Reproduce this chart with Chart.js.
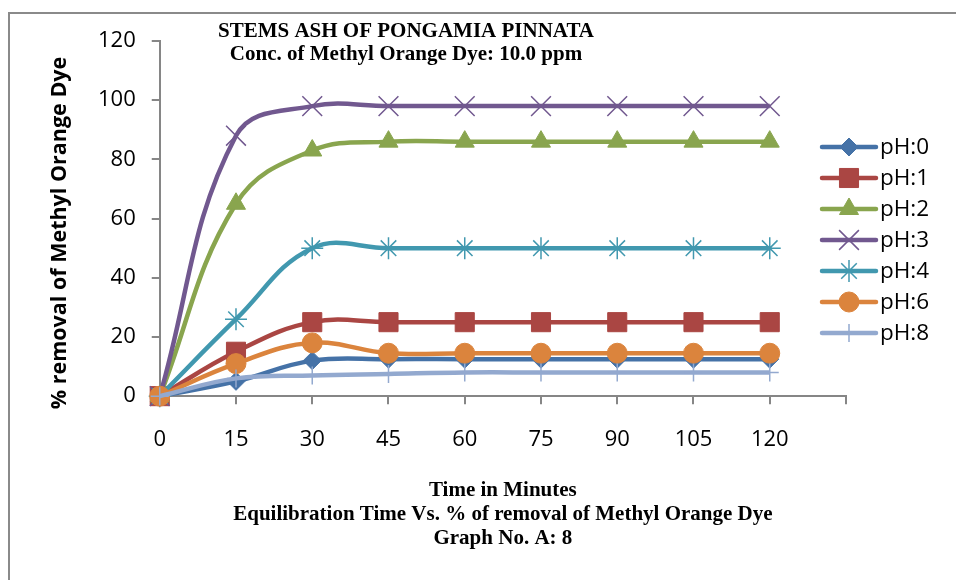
<!DOCTYPE html>
<html>
<head>
<meta charset="utf-8">
<script src="https://cdn.jsdelivr.net/npm/chart.js@4/dist/chart.umd.min.js"></script>
<style>
  html, body { margin: 0; padding: 0; background: #fff; }
  #wrap { position: relative; width: 956px; height: 580px; }
</style>
</head>
<body>
<div id="wrap"><canvas id="c" width="956" height="580"></canvas></div>
<script>
// Contact time (minutes) and % removal for each pH
const times = [0, 15, 30, 45, 60, 75, 90, 105, 120];
const ph0 = [0, 5, 12, 12.5, 12.5, 12.5, 12.5, 12.5, 12.5];
const ph1 = [0, 15, 25, 25, 25, 25, 25, 25, 25];
const ph2 = [0, 65, 83, 86, 86, 86, 86, 86, 86];
const ph3 = [0, 88, 98, 98, 98, 98, 98, 98, 98];
const ph4 = [0, 26, 50, 50, 50, 50, 50, 50, 50];
const ph6 = [0, 11, 18, 14.5, 14.5, 14.5, 14.5, 14.5, 14.5];
const ph8 = [0, 6, 7, 7.5, 8, 8, 8, 8, 8];
const seriesNames = ['pH:0', 'pH:1', 'pH:2', 'pH:3', 'pH:4', 'pH:6', 'pH:8'];
const yTicks = [0, 20, 40, 60, 80, 100, 120];

const titleLines = ['STEMS ASH OF PONGAMIA PINNATA', 'Conc. of Methyl Orange Dye: 10.0 ppm'];
const xTitleLines = ['Time in Minutes', 'Equilibration Time Vs. % of removal of Methyl Orange Dye', 'Graph No. A: 8'];
const yTitle = '% removal of Methyl Orange Dye';

const seriesValues = [ph0, ph1, ph2, ph3, ph4, ph6, ph8];
const styles = [
  { color: '#4572A7', point: 'rectRot', r: 9, pbw: 1 },
  { color: '#AA4643', point: 'rect', r: 13.5, pbw: 1 },
  { color: '#89A54E', point: 'triangle', r: 11, pbw: 1 },
  { color: '#71588F', point: 'crossRot', r: 14, pbw: 1.5 },
  { color: '#4198AF', point: 'star', r: 11, pbw: 1.5 },
  { color: '#DB843D', point: 'circle', r: 10, pbw: 1 },
  { color: '#93A9CF', point: 'cross', r: 9, pbw: 1.5 }
];

const datasets = seriesNames.map((name, i) => ({
  label: name,
  data: times.map((t, j) => ({ x: t, y: seriesValues[i][j] })),
  borderColor: styles[i].color,
  backgroundColor: styles[i].color,
  pointBackgroundColor: styles[i].color,
  pointBorderColor: styles[i].color,
  pointStyle: styles[i].point,
  pointRadius: styles[i].r,
  pointBorderWidth: styles[i].pbw,
  borderWidth: 4.5,
  tension: 0.4,
  clip: false,
  order: seriesNames.length - i
}));

const AXIS = '#868686';
const SERIF = '"Liberation Serif", "Times New Roman", serif';
const SANS = '"Open Sans", Lato, sans-serif';

const decor = {
  id: 'decor',
  beforeDraw(chart) {
    const ctx = chart.ctx;
    ctx.save();
    ctx.strokeStyle = '#8a8a8a';
    ctx.lineWidth = 2;
    ctx.beginPath();
    ctx.moveTo(9, 600);
    ctx.lineTo(9, 13);
    ctx.lineTo(980, 13);
    ctx.stroke();
    ctx.restore();
  },
  afterDraw(chart) {
    const ctx = chart.ctx;
    ctx.save();
    // chart title
    ctx.fillStyle = '#000';
    ctx.font = 'bold 21px ' + SERIF;
    ctx.textAlign = 'center';
    ctx.textBaseline = 'alphabetic';
    ctx.fillText(titleLines[0], 406, 37);
    ctx.fillText(titleLines[1], 406, 60);

    // y-axis title
    ctx.save();
    ctx.translate(60, 233);
    ctx.rotate(-Math.PI / 2);
    ctx.font = 'bold 21.5px ' + SANS;
    ctx.textBaseline = 'middle';
    ctx.fillText(yTitle, 0, 0);
    ctx.restore();

    // legend
    const lx0 = 822, lx1 = 876, ly0 = 147, step = 31;
    chart.data.datasets.forEach((ds, i) => {
      const y = ly0 + i * step;
      ctx.strokeStyle = ds.borderColor;
      ctx.lineWidth = ds.borderWidth;
      ctx.lineCap = 'round';
      ctx.beginPath();
      ctx.moveTo(lx0, y);
      ctx.lineTo(lx1, y);
      ctx.stroke();
      ctx.lineCap = 'butt';
      ctx.fillStyle = ds.pointBackgroundColor;
      ctx.strokeStyle = ds.pointBorderColor;
      ctx.lineWidth = ds.pointBorderWidth;
      Chart.helpers.drawPoint(ctx, { pointStyle: ds.pointStyle, radius: ds.pointRadius, rotation: 0, borderWidth: ds.pointBorderWidth }, (lx0 + lx1) / 2, y);
      ctx.fillStyle = '#000';
      ctx.font = '22.5px ' + SANS;
      ctx.textAlign = 'left';
      ctx.textBaseline = 'middle';
      ctx.fillText(ds.label, 880, y + 1);
    });
    ctx.restore();
  }
};

new Chart(document.getElementById('c'), {
  type: 'line',
  data: { datasets },
  options: {
    responsive: false,
    animation: false,
    layout: { padding: { left: 82, right: 110, top: 41, bottom: 29 } },
    plugins: { legend: { display: false }, tooltip: { enabled: false } },
    scales: {
      x: {
        type: 'linear',
        min: 0,
        max: 135,
        afterBuildTicks(scale) {
          scale.ticks = [0, 15, 30, 45, 60, 75, 90, 105, 120, 135].map(v => ({ value: v }));
        },
        ticks: {
          color: '#000',
          font: { family: SANS, size: 22 },
          padding: 22,
          maxRotation: 0,
          autoSkip: false,
          callback: (v) => times.includes(v) ? String(v) : ''
        },
        grid: { drawOnChartArea: false, tickLength: 8, color: AXIS, lineWidth: 2 },
        border: { color: AXIS, width: 2 },
        title: {
          display: true,
          text: xTitleLines,
          color: '#000',
          font: { family: SERIF, size: 21, weight: 'bold', lineHeight: 1.15 },
          padding: { top: 4, bottom: 0 }
        }
      },
      y: {
        min: 0,
        max: 120,
        afterBuildTicks(scale) {
          scale.ticks = yTicks.map(v => ({ value: v }));
        },
        ticks: {
          color: '#000',
          font: { family: SANS, size: 22 },
          padding: 16
        },
        grid: { drawOnChartArea: false, tickLength: 8, color: AXIS, lineWidth: 2 },
        border: { color: AXIS, width: 2 }
      }
    }
  },
  plugins: [decor]
});
</script>
</body>
</html>
